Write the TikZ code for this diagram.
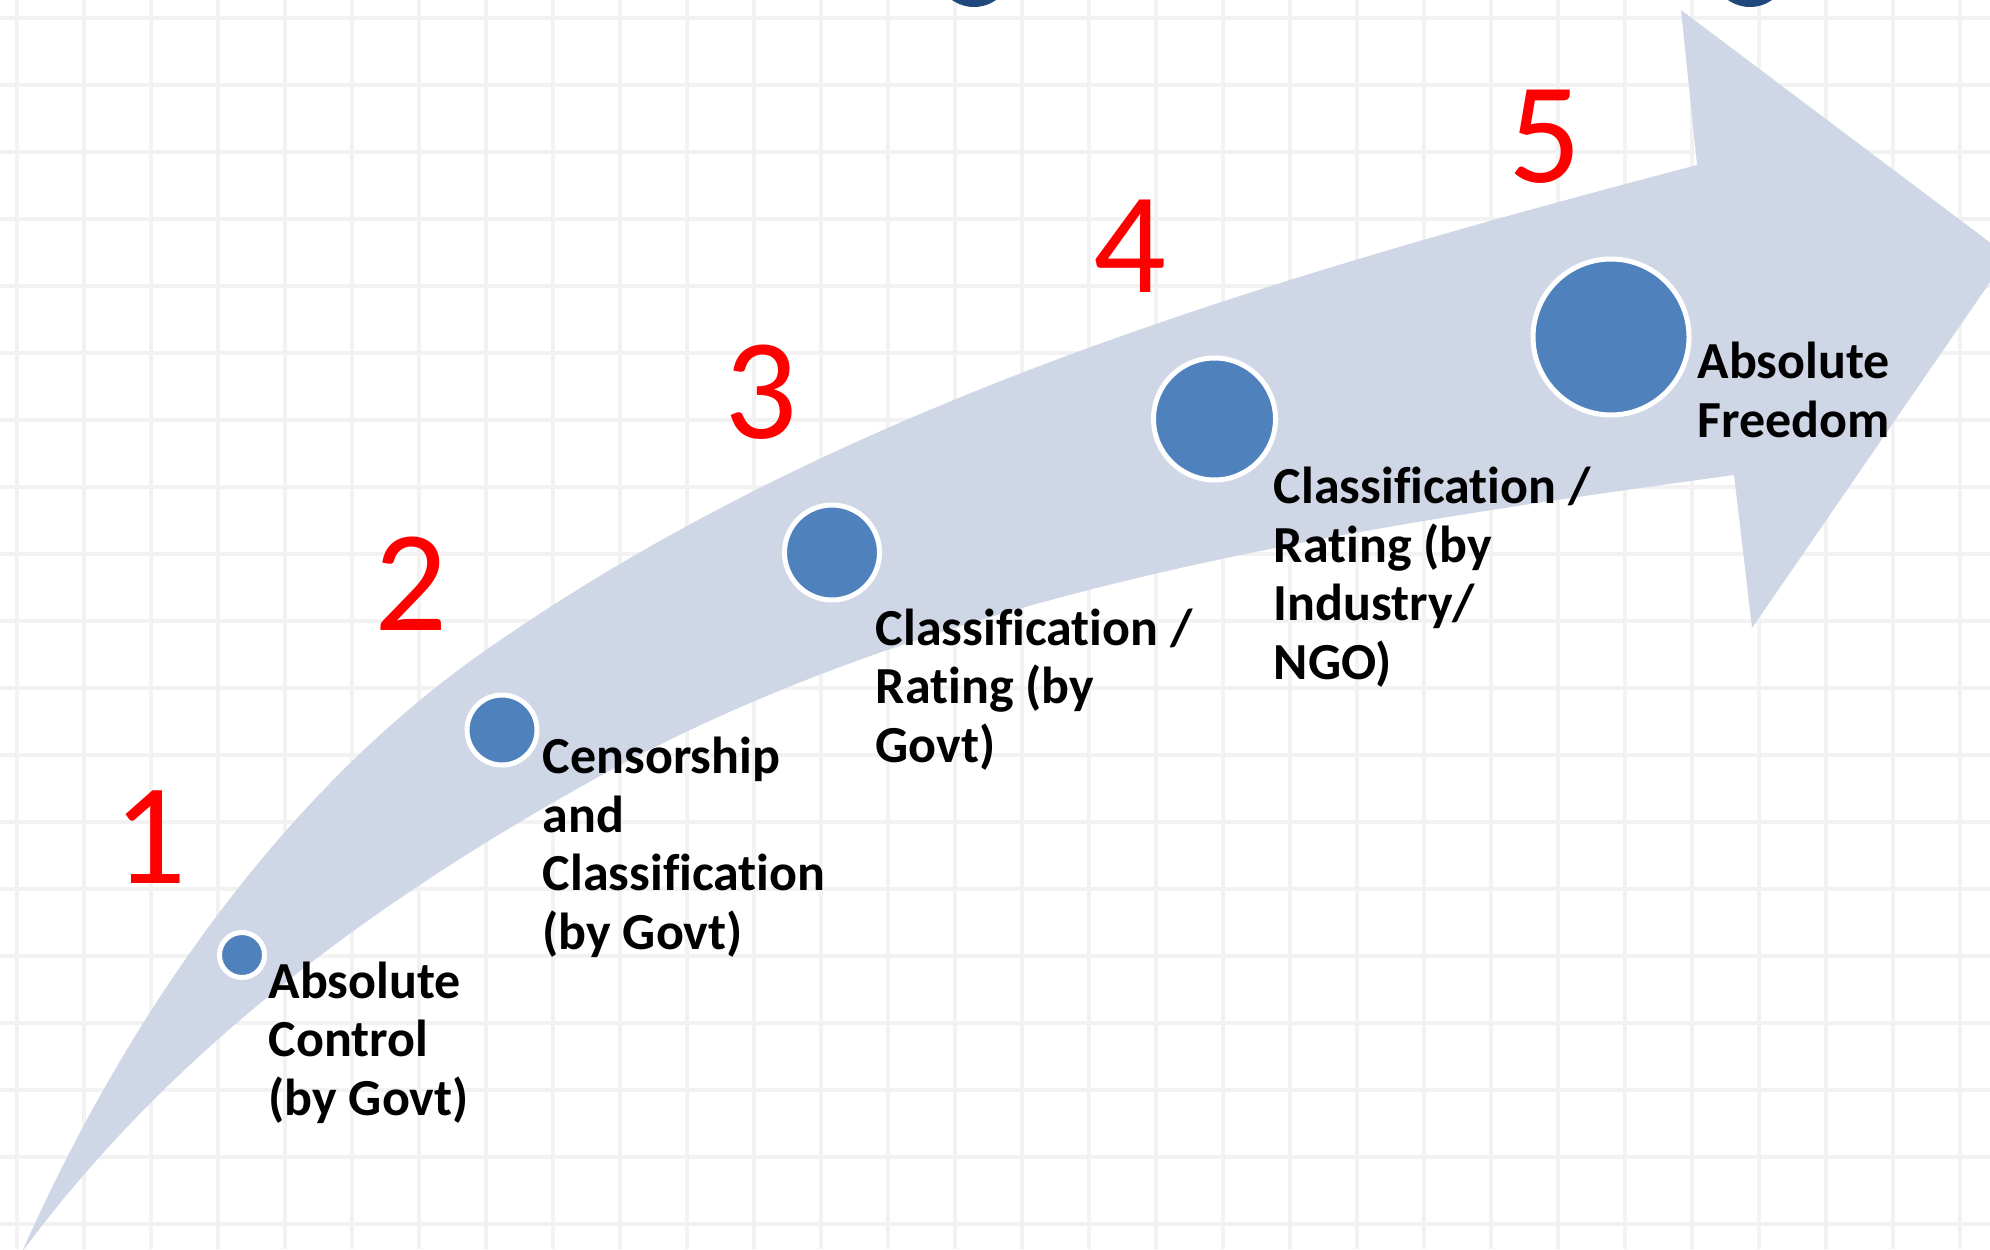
\documentclass[tikz,border=0pt]{standalone}
\usepackage{fontspec}
\setmainfont{Carlito}[Ligatures=CommonOff]
\definecolor{arrowfill}{RGB}{207,215,231}
\definecolor{stageblue}{RGB}{79,129,189}
\definecolor{topblue}{RGB}{31,73,125}
\definecolor{gridgray}{RGB}{242,242,242}
\tikzset{
  stage/.style={circle, fill=stageblue, draw=white, line width=0.5mm, inner sep=0pt},
  stepnum/.style={text=red, font=\fontsize{41}{49}\selectfont, anchor=base, inner sep=0pt},
  stagelabel/.style={font=\bfseries\fontsize{14.8}{16.6}\selectfont, align=left, anchor=base west, inner sep=0pt},
}
\begin{document}
\begin{tikzpicture}
    \useasboundingbox (0,0) rectangle (19.9,12.49);
    \clip (0,0) rectangle (19.9,12.49);
    % grid
    \foreach \x in {0,...,29}
    \draw[gridgray, line width=0.45mm] (0.17+0.67*\x, 0) -- (0.17+0.67*\x, 12.49);
    \foreach \y in {0,...,18}
    \draw[gridgray, line width=0.45mm] (0, 12.31-0.67*\y) -- (19.9, 12.31-0.67*\y);
    % cut-off circles at the top
    \fill[topblue] (9.74,12.80) circle (0.38);
    \fill[topblue] (17.50,12.80) circle (0.38);
    % the curved arrow
    \fill[arrowfill] (0.22,-0.03) .. controls (1.25,2.30) and (2.81,4.56) .. (4.86,5.99)
        .. controls (8.43,8.49) and (12.80,9.74) .. (16.97,10.84)
        -- (16.81,12.39) -- (20.08,9.93) -- (17.52,6.21) -- (17.34,7.74)
        .. controls (13.48,7.21) and (9.42,6.61) .. (6.00,4.73)
        .. controls (3.83,3.53) and (1.75,2.04) .. (0.22,-0.03) -- cycle;
    % stages
    \node[stage, minimum size=0.45cm] (s1) at (2.42,2.94) {};
    \node[stage, minimum size=0.70cm] (s2) at (5.02,5.19) {};
    \node[stage, minimum size=0.95cm] (s3) at (8.32,6.965) {};
    \node[stage, minimum size=1.22cm] (s4) at (12.145,8.30) {};
    \node[stage, minimum size=1.56cm] (s5) at (16.11,9.12) {};
    % numbers
    \node[stepnum] (n1) at (1.50,3.66) {1};
    \node[stepnum] (n2) at (4.11,6.19) {2};
    \node[stepnum] (n3) at (7.61,8.11) {3};
    \node[stepnum] (n4) at (11.30,9.57) {4};
    \node[stepnum] (n5) at (15.45,10.66) {5};
    % labels (placed at the baseline of their last line)
    \node[stagelabel] (l1) at (2.68,1.34) {Absolute\\Control\\(by Govt)};
    \node[stagelabel] (l2) at (5.42,3.00) {Censorship\\and\\Classification\\(by Govt)};
    \node[stagelabel] (l3) at (8.75,4.87) {Classification /\\Rating (by\\Govt)};
    \node[stagelabel] (l4) at (12.73,5.70) {Classification /\\Rating (by\\Industry/\\NGO)};
    \node[stagelabel] (l5) at (16.97,8.12) {Absolute\\Freedom};
\end{tikzpicture}
\end{document}
